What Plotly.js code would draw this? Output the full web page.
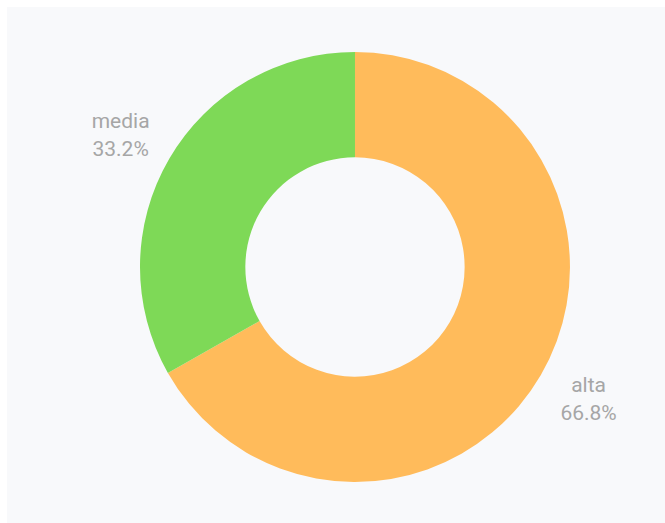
<!DOCTYPE html>
<html>
<head>
<meta charset="utf-8">
<script src="https://cdn.plot.ly/plotly-3.0.1.min.js"></script>
<style>
html,body{margin:0;padding:0;background:#ffffff;width:665px;height:523px;overflow:hidden;}
#chart{position:absolute;left:7px;top:7px;width:658px;height:516px;}
</style>
</head>
<body>
<div id="chart"></div>
<script>
const labels = ['alta', 'media'];
const values = [66.8, 33.2];
const colors = ['#ffbb5b', '#7ed957'];

const spacer = '<span style="color:rgba(0,0,0,0)">.</span>';

Plotly.newPlot('chart', [{
  type: 'pie',
  labels: labels,
  values: values,
  sort: false,
  direction: 'clockwise',
  rotation: 0,
  hole: 0.51,
  marker: {colors: colors, line: {width: 0}},
  texttemplate: [spacer + '<br>%{label}<br>%{percent}', '%{label}<br>%{percent}<br>' + spacer],
  textposition: 'outside',
  outsidetextfont: {color: '#a6a6a6', size: 21, family: 'Roboto, sans-serif'},
  domain: {x: [0.2021, 0.8556], y: [0.0795, 0.9128]},
  showlegend: false
}], {
  width: 658,
  height: 516,
  margin: {l: 0, r: 0, t: 0, b: 0},
  paper_bgcolor: '#f8f9fb',
  plot_bgcolor: '#f8f9fb',
  showlegend: false
}, {displayModeBar: false, staticPlot: true});
</script>
</body>
</html>
